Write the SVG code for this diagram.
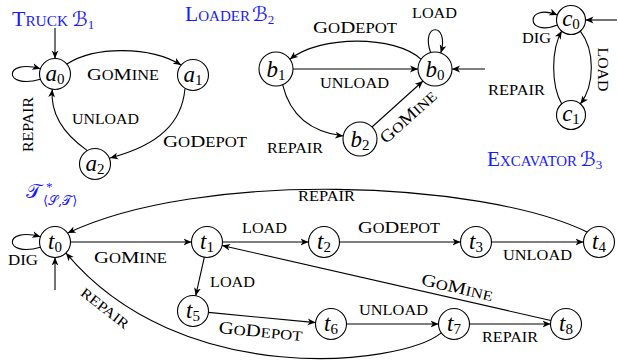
<svg xmlns="http://www.w3.org/2000/svg" width="618" height="364" viewBox="0 0 618 364">
<style>
.n circle{fill:#fff;stroke:#000;stroke-width:1.1}
.nl{font-family:"Liberation Serif",serif;font-style:italic;font-size:23px;text-anchor:middle}
.sub{font-style:normal;font-size:15px}
.e path{fill:none;stroke:#000;stroke-width:1.1;marker-end:url(#ah)}
.l{font-family:"Liberation Serif",serif;font-size:17.5px;font-variant:small-caps}
.s{font-size:20px}
.m{text-anchor:middle}
.ttl{font-family:"Liberation Serif",serif;font-size:20px;font-variant:small-caps;fill:#1a1aff}
.scr{font-family:"DejaVu Serif","DejaVu Sans",serif;font-variant:normal}
.ts{font-size:13px;font-variant:normal}
</style>
<defs>
<marker id="ah" viewBox="0 0 8 8" markerWidth="8" markerHeight="8" refX="8" refY="4" orient="auto" markerUnits="userSpaceOnUse">
<path d="M0,0.6 L8,4 L0,7.4 L2.2,4 Z" fill="#000"/>
</marker>
</defs>

<g id="titles">
<text class="ttl" x="12" y="26" textLength="56" lengthAdjust="spacingAndGlyphs">Truck</text>
<text class="ttl" x="72" y="26"><tspan class="scr">ℬ</tspan><tspan class="ts" dy="3">1</tspan></text>
<text class="ttl" x="185" y="21" textLength="65" lengthAdjust="spacingAndGlyphs">Loader</text>
<text class="ttl" x="252" y="21"><tspan class="scr">ℬ</tspan><tspan class="ts" dy="3">2</tspan></text>
<text class="ttl" x="487" y="166" textLength="90" lengthAdjust="spacingAndGlyphs">Excavator</text>
<text class="ttl" x="580" y="166"><tspan class="scr">ℬ</tspan><tspan class="ts" dy="3">3</tspan></text>
<text class="ttl" x="26" y="198"><tspan class="scr" font-size="20">𝒯</tspan></text>
<text class="ttl ts" x="46" y="191">*</text>
<text class="ttl ts" x="43" y="205"><tspan class="scr">⟨𝒮,𝒯⟩</tspan></text>
</g>

<g id="a0" class="n"><circle cx="55" cy="74" r="15.5"/><text class="nl" x="55" y="81">a<tspan class="sub" dy="3">0</tspan></text></g>
<g id="a1" class="n"><circle cx="193" cy="75" r="15.5"/><text class="nl" x="193" y="82">a<tspan class="sub" dy="3">1</tspan></text></g>
<g id="a2" class="n"><circle cx="95" cy="164" r="15.5"/><text class="nl" x="95" y="171">a<tspan class="sub" dy="3">2</tspan></text></g>

<g id="b0" class="n"><circle cx="435" cy="69" r="17"/><text class="nl" x="435" y="77">b<tspan class="sub" dy="3">0</tspan></text></g>
<g id="b1" class="n"><circle cx="276" cy="69" r="17"/><text class="nl" x="276" y="77">b<tspan class="sub" dy="3">1</tspan></text></g>
<g id="b2" class="n"><circle cx="360" cy="139" r="17"/><text class="nl" x="360" y="147">b<tspan class="sub" dy="3">2</tspan></text></g>

<g id="c0" class="n"><circle cx="571" cy="20" r="14.5"/><text class="nl" x="571" y="26">c<tspan class="sub" dy="3">0</tspan></text></g>
<g id="c1" class="n"><circle cx="571" cy="115" r="14.5"/><text class="nl" x="571" y="121">c<tspan class="sub" dy="3">1</tspan></text></g>

<g id="t0" class="n"><circle cx="55" cy="242" r="15.5"/><text class="nl" x="55" y="249">t<tspan class="sub" dy="3">0</tspan></text></g>
<g id="t1" class="n"><circle cx="207" cy="242" r="15.5"/><text class="nl" x="207" y="249">t<tspan class="sub" dy="3">1</tspan></text></g>
<g id="t2" class="n"><circle cx="324" cy="242" r="15.5"/><text class="nl" x="324" y="249">t<tspan class="sub" dy="3">2</tspan></text></g>
<g id="t3" class="n"><circle cx="476" cy="242" r="15.5"/><text class="nl" x="476" y="249">t<tspan class="sub" dy="3">3</tspan></text></g>
<g id="t4" class="n"><circle cx="599" cy="242" r="15.5"/><text class="nl" x="599" y="249">t<tspan class="sub" dy="3">4</tspan></text></g>
<g id="t5" class="n"><circle cx="193" cy="311" r="15.5"/><text class="nl" x="193" y="318">t<tspan class="sub" dy="3">5</tspan></text></g>
<g id="t6" class="n"><circle cx="331" cy="324" r="15.5"/><text class="nl" x="331" y="331">t<tspan class="sub" dy="3">6</tspan></text></g>
<g id="t7" class="n"><circle cx="454" cy="324" r="15.5"/><text class="nl" x="454" y="331">t<tspan class="sub" dy="3">7</tspan></text></g>
<g id="t8" class="n"><circle cx="566" cy="324" r="15.5"/><text class="nl" x="566" y="331">t<tspan class="sub" dy="3">8</tspan></text></g>

<g id="connectors" class="e">
<path d="M55,28 L55,58.5"/>
<path d="M40.4,79.3 C3,90 3,58 40.4,68.7"/>
<path d="M66.9,64 C95,46 150,46 181.1,65"/>
<path d="M185,88.5 C182,122 160,145 110,158"/>
<path d="M87.3,150.6 C65,135 50,115 52.3,89.3"/>

<path d="M430.6,52.6 C420,22 450,22 440.8,53"/>
<path d="M421.1,59.3 C395,35 320,35 289.9,59.3"/>
<path d="M293,69 L418,69"/>
<path d="M485,69 L452,69"/>
<path d="M282.6,84.6 C290,115 310,132 343.3,136"/>
<path d="M372,127 L423,81"/>

<path d="M617,20 L585.5,20"/>
<path d="M557.4,25 C525,38 525,2 557.4,15"/>
<path d="M580.3,31.1 C595,50 595,85 580.3,103.9"/>
<path d="M561.7,103.9 C551,85 551,50 561.7,31.1"/>

<path d="M40.4,247.3 C3,258 3,226 40.4,236.7"/>
<path d="M55,290 L55,257.5"/>
<path d="M70.5,242 L191.5,242"/>
<path d="M222.5,242 L308.5,242"/>
<path d="M339.5,242 L460.5,242"/>
<path d="M491.5,242 L583.5,242"/>
<path d="M587.1,232 C480,180 200,170 67.7,233.1"/>
<path d="M204.3,257.3 L195.7,295.7"/>
<path d="M208.4,312.4 L315.6,322.6"/>
<path d="M346.5,324 L438.5,324"/>
<path d="M469.5,324 L550.5,324"/>
<path d="M550.9,320.5 L222.1,245.5"/>
<path d="M441.3,332.9 C400,366 180,390 66,253"/>
</g>

<g id="labels">
<text class="l" x="87" y="80" textLength="72" lengthAdjust="spacingAndGlyphs">G<tspan class="s">o</tspan>M<tspan class="s">ine</tspan></text>
<text class="l" x="163" y="147" textLength="84" lengthAdjust="spacingAndGlyphs">G<tspan class="s">o</tspan>D<tspan class="s">epot</tspan></text>
<text class="l s" x="72" y="124" textLength="67" lengthAdjust="spacingAndGlyphs">unload</text>
<text class="l s m" transform="translate(33,124.5) rotate(-90)" textLength="55" lengthAdjust="spacingAndGlyphs">repair</text>

<text class="l s" x="412" y="18" textLength="45" lengthAdjust="spacingAndGlyphs">load</text>
<text class="l" x="313" y="33" textLength="84" lengthAdjust="spacingAndGlyphs">G<tspan class="s">o</tspan>D<tspan class="s">epot</tspan></text>
<text class="l s" x="320" y="88" textLength="69" lengthAdjust="spacingAndGlyphs">unload</text>
<text class="l s" x="267" y="153" textLength="56" lengthAdjust="spacingAndGlyphs">repair</text>
<text class="l m" transform="translate(412,121) rotate(-42)" textLength="70" lengthAdjust="spacingAndGlyphs">G<tspan class="s">o</tspan>M<tspan class="s">ine</tspan></text>

<text class="l s" x="522" y="43" textLength="29" lengthAdjust="spacingAndGlyphs">dig</text>
<text class="l s m" transform="translate(598,69.5) rotate(90)" textLength="44" lengthAdjust="spacingAndGlyphs">load</text>
<text class="l s" x="488" y="95" textLength="57" lengthAdjust="spacingAndGlyphs">repair</text>

<text class="l s" x="8" y="265" textLength="30" lengthAdjust="spacingAndGlyphs">dig</text>
<text class="l" x="94" y="263" textLength="73" lengthAdjust="spacingAndGlyphs">G<tspan class="s">o</tspan>M<tspan class="s">ine</tspan></text>
<text class="l s" x="242" y="233" textLength="45" lengthAdjust="spacingAndGlyphs">load</text>
<text class="l" x="358" y="233" textLength="82" lengthAdjust="spacingAndGlyphs">G<tspan class="s">o</tspan>D<tspan class="s">epot</tspan></text>
<text class="l s" x="503" y="260" textLength="69" lengthAdjust="spacingAndGlyphs">unload</text>
<text class="l s" x="298" y="201" textLength="57" lengthAdjust="spacingAndGlyphs">repair</text>
<text class="l s" x="210" y="287" textLength="45" lengthAdjust="spacingAndGlyphs">load</text>
<text class="l m" transform="translate(260,337) rotate(5.4)" textLength="84" lengthAdjust="spacingAndGlyphs">G<tspan class="s">o</tspan>D<tspan class="s">epot</tspan></text>
<text class="l s" x="359" y="315" textLength="69" lengthAdjust="spacingAndGlyphs">unload</text>
<text class="l s" x="482" y="342" textLength="56" lengthAdjust="spacingAndGlyphs">repair</text>
<text class="l m" transform="translate(456,293) rotate(12.9)" textLength="73" lengthAdjust="spacingAndGlyphs">G<tspan class="s">o</tspan>M<tspan class="s">ine</tspan></text>
<text class="l s m" transform="translate(102,312) rotate(38)" textLength="57" lengthAdjust="spacingAndGlyphs">repair</text>
</g>
</svg>
